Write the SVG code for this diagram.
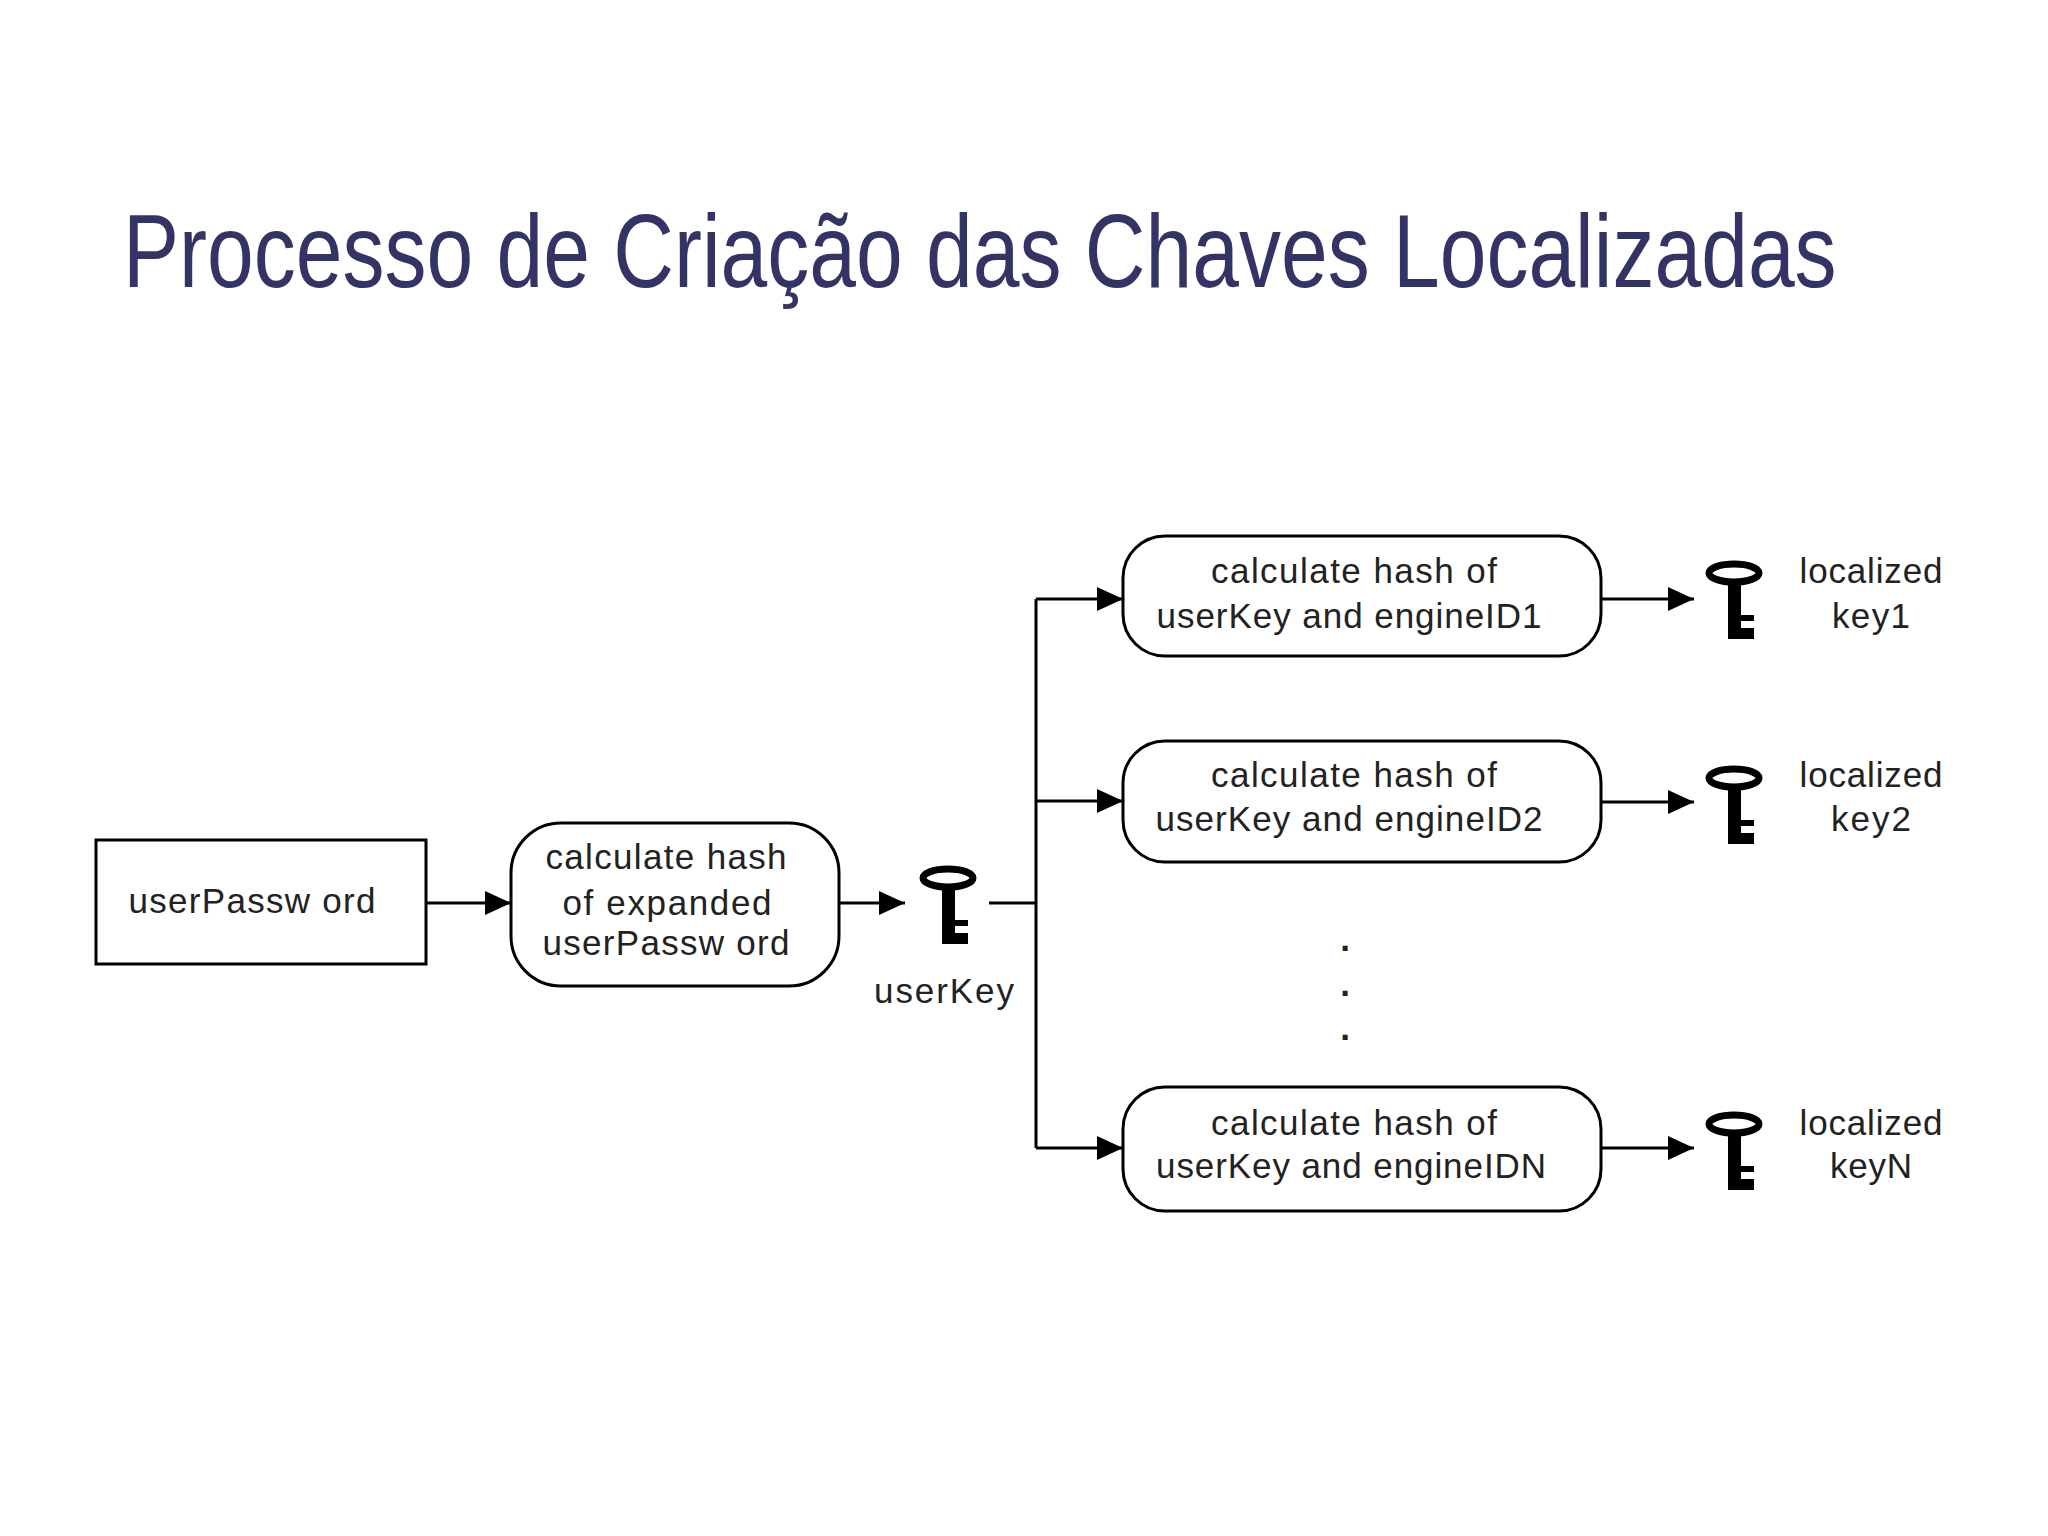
<svg xmlns="http://www.w3.org/2000/svg" width="2048" height="1536" viewBox="0 0 2048 1536">
<style>
.t{font-family:"Liberation Sans",Arial,sans-serif;font-size:35px;fill:#222;text-anchor:middle}
.b{fill:#fff;stroke:#000;stroke-width:3}
.c{fill:none;stroke:#000;stroke-width:3}
.d{font-weight:bold}
</style>
<defs>
<marker id="a" markerUnits="userSpaceOnUse" markerWidth="28" markerHeight="26" refX="26" refY="13" orient="auto"><path d="M0 1L26 13L0 25Z" fill="#000"/></marker>
<g id="key"><ellipse cx="0" cy="0" rx="25" ry="9" fill="#fff" stroke="#000" stroke-width="7"/><path d="M-6 10H7V42H20V48H7V55H20V66H-6Z" fill="#000"/></g>
</defs>
<rect width="2048" height="1536" fill="#fff"/>
<text id="title" transform="translate(123 287) scale(0.816 1)" x="0" y="0" font-family="'Liberation Sans',Arial,sans-serif" font-size="103" fill="#333366" textLength="2100" lengthAdjust="spacingAndGlyphs">Processo de Criação das Chaves Localizadas</text>
<g id="diagram" transform="translate(1 1)">
<g id="connectors">
<path class="c" d="M425 902H510" marker-end="url(#a)"/>
<path class="c" d="M839 902H904" marker-end="url(#a)"/>
<path class="c" d="M988 902H1035M1035 598V1147"/>
<path class="c" d="M1035 598H1122" marker-end="url(#a)"/>
<path class="c" d="M1035 800H1122" marker-end="url(#a)"/>
<path class="c" d="M1035 1147H1122" marker-end="url(#a)"/>
<path class="c" d="M1601 598H1693" marker-end="url(#a)"/>
<path class="c" d="M1601 801H1693" marker-end="url(#a)"/>
<path class="c" d="M1601 1147H1693" marker-end="url(#a)"/>
</g>
<g id="userPassword"><rect class="b" x="95" y="839" width="330" height="124"/><text class="t" x="251" y="912" textLength="247">userPassw ord</text></g>
<g id="hash"><rect class="b" x="510" y="822" width="328" height="163" rx="50"/>
<text class="t" x="665" y="868" textLength="241">calculate hash</text><text class="t" x="666" y="914" textLength="209">of expanded</text><text class="t" x="665" y="954" textLength="247">userPassw ord</text></g>
<g id="userKey"><use href="#key" x="947" y="877"/><text class="t" x="943" y="1002" textLength="140">userKey</text></g>
<g id="hash1"><rect class="b" x="1122" y="535" width="478" height="120" rx="42"/>
<text class="t" x="1353" y="582" textLength="286">calculate hash of</text><text class="t" x="1348" y="627" textLength="385">userKey and engineID1</text></g>
<g id="key1"><use href="#key" x="1733" y="572"/><text class="t" x="1870" y="582" textLength="143">localized</text><text class="t" x="1870" y="627" textLength="78">key1</text></g>
<g id="hash2"><rect class="b" x="1122" y="740" width="478" height="121" rx="42"/>
<text class="t" x="1353" y="786" textLength="286">calculate hash of</text><text class="t" x="1348" y="830" textLength="387">userKey and engineID2</text></g>
<g id="key2"><use href="#key" x="1733" y="777"/><text class="t" x="1870" y="786" textLength="143">localized</text><text class="t" x="1870" y="830" textLength="80">key2</text></g>
<g id="dots"><text class="t d" x="1344" y="950">.</text><text class="t d" x="1344" y="995">.</text><text class="t d" x="1344" y="1039">.</text></g>
<g id="hashN"><rect class="b" x="1122" y="1086" width="478" height="124" rx="42"/>
<text class="t" x="1353" y="1134" textLength="286">calculate hash of</text><text class="t" x="1350" y="1177" textLength="390">userKey and engineIDN</text></g>
<g id="keyN"><use href="#key" x="1733" y="1123"/><text class="t" x="1870" y="1134" textLength="143">localized</text><text class="t" x="1870" y="1177" textLength="82">keyN</text></g>
</g>
</svg>
